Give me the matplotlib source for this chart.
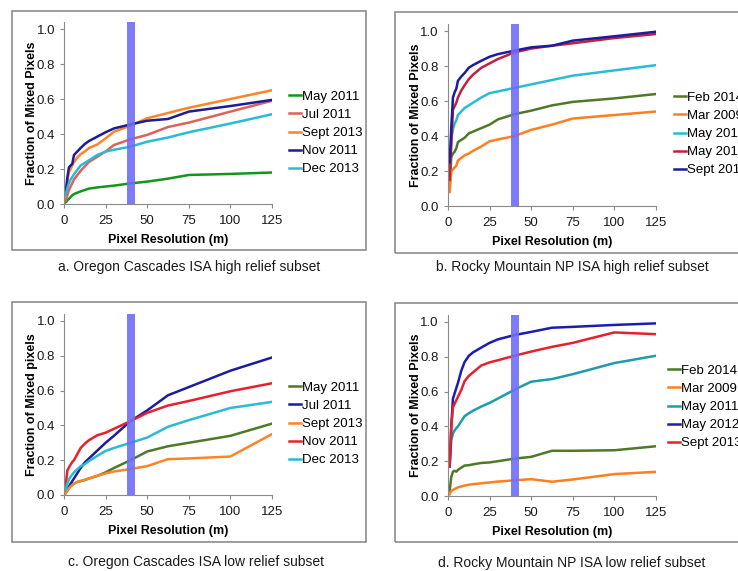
import matplotlib
matplotlib.use("Agg")
import matplotlib.pyplot as plt
from matplotlib.patches import Rectangle

plt.rcParams['font.family'] = ['Liberation Sans', 'DejaVu Sans']

# pixel resolutions (m)
res = [1, 2, 3, 4, 5, 6, 8, 10, 12.5, 15, 20, 25, 30, 40, 50, 62.5, 75, 100, 125]

# a. Oregon Cascades high relief
a_labels = ['May 2011', 'Jul 2011', 'Sept 2013', 'Nov 2011', 'Dec 2013']
a_colors = ['#12961a', '#e0605a', '#ff8426', '#1c1c96', '#28bcd4']
a_may11 = [0.01, 0.02, 0.03, 0.04, 0.05, 0.057, 0.065, 0.072, 0.08, 0.088, 0.095, 0.10, 0.105, 0.118, 0.128, 0.145, 0.166, 0.172, 0.18]
a_jul11 = [0.02, 0.05, 0.08, 0.10, 0.12, 0.14, 0.165, 0.19, 0.215, 0.24, 0.27, 0.30, 0.337, 0.37, 0.395, 0.44, 0.465, 0.528, 0.59]
a_sep13 = [0.05, 0.13, 0.185, 0.20, 0.22, 0.24, 0.265, 0.285, 0.30, 0.32, 0.34, 0.375, 0.413, 0.448, 0.49, 0.52, 0.55, 0.60, 0.65]
a_nov11 = [0.06, 0.15, 0.21, 0.22, 0.23, 0.28, 0.30, 0.32, 0.343, 0.36, 0.385, 0.41, 0.432, 0.455, 0.476, 0.486, 0.528, 0.56, 0.595]
a_dec13 = [0.05, 0.09, 0.12, 0.14, 0.155, 0.17, 0.195, 0.22, 0.235, 0.25, 0.28, 0.30, 0.31, 0.328, 0.356, 0.38, 0.41, 0.46, 0.513]

# b. Rocky Mountain NP high relief
b_labels = ['Feb 2014', 'Mar 2009', 'May 2011', 'May 2012', 'Sept 2013']
b_colors = ['#4e7a28', '#ff7f1e', '#28bcd4', '#c4203c', '#1c1c9c']
b_feb14 = [0.12, 0.28, 0.30, 0.31, 0.33, 0.365, 0.378, 0.39, 0.415, 0.425, 0.445, 0.465, 0.495, 0.525, 0.545, 0.575, 0.595, 0.615, 0.64]
b_mar09 = [0.08, 0.20, 0.21, 0.22, 0.23, 0.26, 0.275, 0.29, 0.30, 0.315, 0.34, 0.37, 0.38, 0.40, 0.435, 0.465, 0.50, 0.52, 0.54]
b_may11 = [0.20, 0.38, 0.44, 0.47, 0.49, 0.52, 0.54, 0.56, 0.575, 0.59, 0.62, 0.645, 0.655, 0.675, 0.695, 0.72, 0.745, 0.775, 0.805]
b_may12 = [0.15, 0.35, 0.55, 0.57, 0.59, 0.62, 0.66, 0.69, 0.725, 0.75, 0.79, 0.815, 0.84, 0.878, 0.90, 0.916, 0.93, 0.96, 0.983]
b_sep13 = [0.25, 0.45, 0.62, 0.65, 0.67, 0.716, 0.74, 0.76, 0.79, 0.805, 0.83, 0.853, 0.868, 0.888, 0.907, 0.916, 0.945, 0.97, 0.996]

# c. Oregon Cascades low relief
c_labels = ['May 2011', 'Jul 2011', 'Sept 2013', 'Nov 2011', 'Dec 2013']
c_colors = ['#4e7a28', '#1c1ca0', '#ff8426', '#e8202c', '#28bcd4']
c_may11 = [0.01, 0.025, 0.04, 0.05, 0.058, 0.065, 0.075, 0.08, 0.086, 0.095, 0.11, 0.13, 0.155, 0.20, 0.25, 0.28, 0.30, 0.34, 0.41]
c_jul11 = [0.02, 0.035, 0.05, 0.065, 0.08, 0.095, 0.125, 0.155, 0.187, 0.21, 0.255, 0.30, 0.34, 0.425, 0.486, 0.573, 0.62, 0.714, 0.79]
c_sep13 = [0.01, 0.025, 0.04, 0.05, 0.058, 0.065, 0.075, 0.08, 0.088, 0.095, 0.11, 0.124, 0.135, 0.149, 0.166, 0.206, 0.21, 0.221, 0.35]
c_nov11 = [0.05, 0.14, 0.158, 0.175, 0.19, 0.20, 0.235, 0.27, 0.295, 0.315, 0.343, 0.358, 0.38, 0.425, 0.472, 0.514, 0.54, 0.596, 0.642]
c_dec13 = [0.03, 0.065, 0.09, 0.105, 0.118, 0.13, 0.148, 0.165, 0.177, 0.195, 0.225, 0.253, 0.27, 0.30, 0.33, 0.392, 0.43, 0.50, 0.535]

# d. Rocky Mountain NP low relief
d_labels = ['Feb 2014', 'Mar 2009', 'May 2011', 'May 2012', 'Sept 2013']
d_colors = ['#4e7a28', '#ff7f1e', '#1c9cac', '#1c1cb4', '#e8202c']
d_feb14 = [0.03, 0.11, 0.14, 0.145, 0.14, 0.15, 0.163, 0.175, 0.177, 0.182, 0.19, 0.193, 0.20, 0.215, 0.225, 0.26, 0.26, 0.263, 0.286]
d_mar09 = [0.01, 0.03, 0.035, 0.04, 0.045, 0.05, 0.055, 0.06, 0.065, 0.068, 0.073, 0.078, 0.083, 0.09, 0.097, 0.082, 0.095, 0.126, 0.139]
d_may11 = [0.17, 0.32, 0.36, 0.377, 0.39, 0.40, 0.43, 0.459, 0.475, 0.49, 0.514, 0.535, 0.56, 0.611, 0.657, 0.672, 0.70, 0.764, 0.806]
d_may12 = [0.17, 0.40, 0.56, 0.59, 0.62, 0.65, 0.72, 0.77, 0.805, 0.825, 0.853, 0.88, 0.90, 0.925, 0.943, 0.967, 0.972, 0.983, 0.992]
d_sep13 = [0.17, 0.40, 0.51, 0.53, 0.55, 0.57, 0.61, 0.66, 0.69, 0.71, 0.75, 0.768, 0.78, 0.806, 0.83, 0.857, 0.88, 0.94, 0.93]

band = (38, 42.5)

panels = [
    dict(pos=[0.0867, 0.6427, 0.2818, 0.3187], series=[a_may11, a_jul11, a_sep13, a_nov11, a_dec13],
         labels=a_labels, colors=a_colors, ylabel='Fraction of Mixed Pixels',
         caption='a. Oregon Cascades ISA high relief subset', cap=(189, 267), leg=(289, 133),
         box=(12, 11, 354, 239)),
    dict(pos=[0.607, 0.6392, 0.2818, 0.3187], series=[b_feb14, b_mar09, b_may11, b_may12, b_sep13],
         labels=b_labels, colors=b_colors, ylabel='Fraction of Mixed Pixels',
         caption='b. Rocky Mountain NP ISA high relief subset', cap=(572, 267), leg=(674, 134),
         box=(395, 12, 400, 241)),
    dict(pos=[0.0867, 0.1331, 0.2818, 0.317], series=[c_may11, c_jul11, c_sep13, c_nov11, c_dec13],
         labels=c_labels, colors=c_colors, ylabel='Fraction of Mixed pixels',
         caption='c. Oregon Cascades ISA low relief subset', cap=(196, 562), leg=(289, 424),
         box=(12, 302, 354, 240)),
    dict(pos=[0.607, 0.1313, 0.2818, 0.317], series=[d_feb14, d_mar09, d_may11, d_may12, d_sep13],
         labels=d_labels, colors=d_colors, ylabel='Fraction of Mixed Pixels',
         caption='d. Rocky Mountain NP ISA low relief subset', cap=(572, 563), leg=(668, 407),
         box=(395, 303, 400, 239)),
]

W, H = 738, 571
fig = plt.figure(figsize=(W / 100, H / 100), dpi=100)

for p in panels:
    ax = fig.add_axes(p['pos'])
    for vals, lab, col in zip(p['series'], p['labels'], p['colors']):
        ax.plot(res, vals, color=col, lw=1.8, label=lab)
    ax.axvspan(band[0], band[1], color='#6e6ef6', alpha=0.9, lw=0, zorder=5)
    ax.set_xlim(0, 125)
    ax.set_ylim(0, 1.04)
    ax.set_xticks([0, 25, 50, 75, 100, 125])
    ax.set_yticks([0, 0.2, 0.4, 0.6, 0.8, 1.0])
    ax.set_yticklabels(['0.0', '0.2', '0.4', '0.6', '0.8', '1.0'])
    for s in ['top', 'right']:
        ax.spines[s].set_visible(False)
    for s in ['left', 'bottom']:
        ax.spines[s].set_color('#8a8a8a')
        ax.spines[s].set_linewidth(0.8)
    ax.tick_params(colors='#8a8a8a', labelcolor='#1a1a1a', labelsize=9.5, length=3, width=0.8)
    ax.tick_params(axis='x', pad=5)
    ax.set_xlabel('Pixel Resolution (m)', fontsize=9, fontweight='bold', labelpad=5)
    ax.set_ylabel(p['ylabel'], fontsize=9, fontweight='bold', labelpad=-1)

    lx, ly = p['leg']
    ax.legend(loc='center left', bbox_to_anchor=(lx / W, 1 - ly / H), bbox_transform=fig.transFigure,
              frameon=False, fontsize=9.5, handlelength=0.9, handletextpad=0.05,
              borderpad=0, borderaxespad=0, labelspacing=0.45)

    cx, cy = p['cap']
    fig.text(cx / W, 1 - cy / H, p['caption'], ha='center', va='center', fontsize=10, color='#1a1a1a')

    bx, by, bw, bh = p['box']
    fig.add_artist(Rectangle((bx / W, 1 - (by + bh) / H), bw / W, bh / H, transform=fig.transFigure,
                             fill=False, edgecolor='#8c8c8c', lw=1.2))

fig.savefig('out.png', dpi=100)
